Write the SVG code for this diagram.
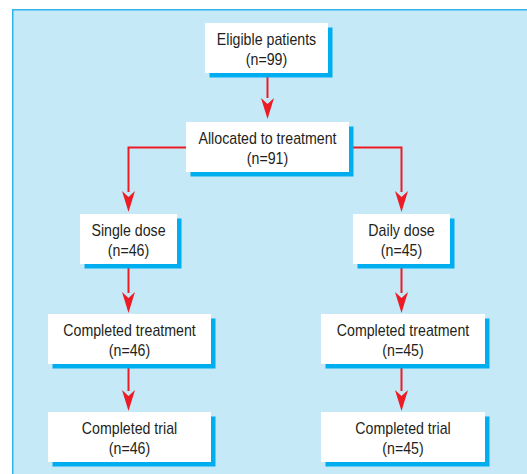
<svg xmlns="http://www.w3.org/2000/svg" width="527" height="474" viewBox="0 0 527 474">
<defs>
<style>
.bg{fill:#c6e9f8;stroke:#2fb4ec;stroke-width:1.5}
.sh{fill:#00aeef}
.bx{fill:#ffffff}
.t{font-family:"Liberation Sans",Arial,sans-serif;font-size:17px;fill:#231f20;text-anchor:middle}
.c{fill:none;stroke:#ed1c24;stroke-width:2}
.ah{fill:#ed1c24}
</style>
</defs>
<rect class="bg" x="12.75" y="9.75" width="530" height="480"/>
<g id="connectors">
<line class="c" x1="267.5" y1="73" x2="267.5" y2="98"/>
<path class="ah" d="M267.5,119 L261,98 L267.5,104 L274,98 Z"/>
<polyline class="c" points="186,147.5 128.5,147.5 128.5,192"/>
<path class="ah" d="M128.5,212 L122,191 L128.5,197 L135,191 Z"/>
<polyline class="c" points="349,147.5 401.5,147.5 401.5,192"/>
<path class="ah" d="M401.5,212 L395,191 L401.5,197 L408,191 Z"/>
<line class="c" x1="128.5" y1="264" x2="128.5" y2="293"/>
<path class="ah" d="M128.5,313 L122,292 L128.5,298 L135,292 Z"/>
<line class="c" x1="401.5" y1="264" x2="401.5" y2="293"/>
<path class="ah" d="M401.5,313 L395,292 L401.5,298 L408,292 Z"/>
<line class="c" x1="128.5" y1="364" x2="128.5" y2="391"/>
<path class="ah" d="M128.5,411 L122,390 L128.5,396 L135,390 Z"/>
<line class="c" x1="401.5" y1="364" x2="401.5" y2="391"/>
<path class="ah" d="M401.5,411 L395,390 L401.5,396 L408,390 Z"/>
</g>
<g id="eligible">
<rect class="sh" x="209.5" y="27.5" width="123" height="50"/>
<rect class="bx" x="205" y="23" width="123" height="50"/>
<text class="t" transform="translate(266.5,45) scale(0.835,1)">Eligible patients</text>
<text class="t" transform="translate(266.5,65) scale(0.835,1)">(n=99)</text>
</g>
<g id="allocated">
<rect class="sh" x="190.5" y="126.5" width="163" height="50"/>
<rect class="bx" x="186" y="122" width="163" height="50"/>
<text class="t" transform="translate(267.5,144) scale(0.835,1)">Allocated to treatment</text>
<text class="t" transform="translate(267.5,164) scale(0.835,1)">(n=91)</text>
</g>
<g id="single">
<rect class="sh" x="84.5" y="218.5" width="97" height="50"/>
<rect class="bx" x="80" y="214" width="97" height="50"/>
<text class="t" transform="translate(128.5,236) scale(0.835,1)">Single dose</text>
<text class="t" transform="translate(128.5,256) scale(0.835,1)">(n=46)</text>
</g>
<g id="daily">
<rect class="sh" x="357.5" y="218.5" width="97" height="50"/>
<rect class="bx" x="353" y="214" width="97" height="50"/>
<text class="t" transform="translate(401.5,236) scale(0.835,1)">Daily dose</text>
<text class="t" transform="translate(401.5,256) scale(0.835,1)">(n=45)</text>
</g>
<g id="ct-left">
<rect class="sh" x="52.5" y="318.5" width="163" height="50"/>
<rect class="bx" x="48" y="314" width="163" height="50"/>
<text class="t" transform="translate(129.5,336) scale(0.835,1)">Completed treatment</text>
<text class="t" transform="translate(129.5,356) scale(0.835,1)">(n=46)</text>
</g>
<g id="ct-right">
<rect class="sh" x="325.5" y="318.5" width="164" height="50"/>
<rect class="bx" x="321" y="314" width="164" height="50"/>
<text class="t" transform="translate(403,336) scale(0.835,1)">Completed treatment</text>
<text class="t" transform="translate(403,356) scale(0.835,1)">(n=45)</text>
</g>
<g id="trial-left">
<rect class="sh" x="52.5" y="416.5" width="163" height="50"/>
<rect class="bx" x="48" y="412" width="163" height="50"/>
<text class="t" transform="translate(129.5,434) scale(0.835,1)">Completed trial</text>
<text class="t" transform="translate(129.5,454) scale(0.835,1)">(n=46)</text>
</g>
<g id="trial-right">
<rect class="sh" x="325.5" y="416.5" width="164" height="50"/>
<rect class="bx" x="321" y="412" width="164" height="50"/>
<text class="t" transform="translate(403,434) scale(0.835,1)">Completed trial</text>
<text class="t" transform="translate(403,454) scale(0.835,1)">(n=45)</text>
</g>
</svg>
